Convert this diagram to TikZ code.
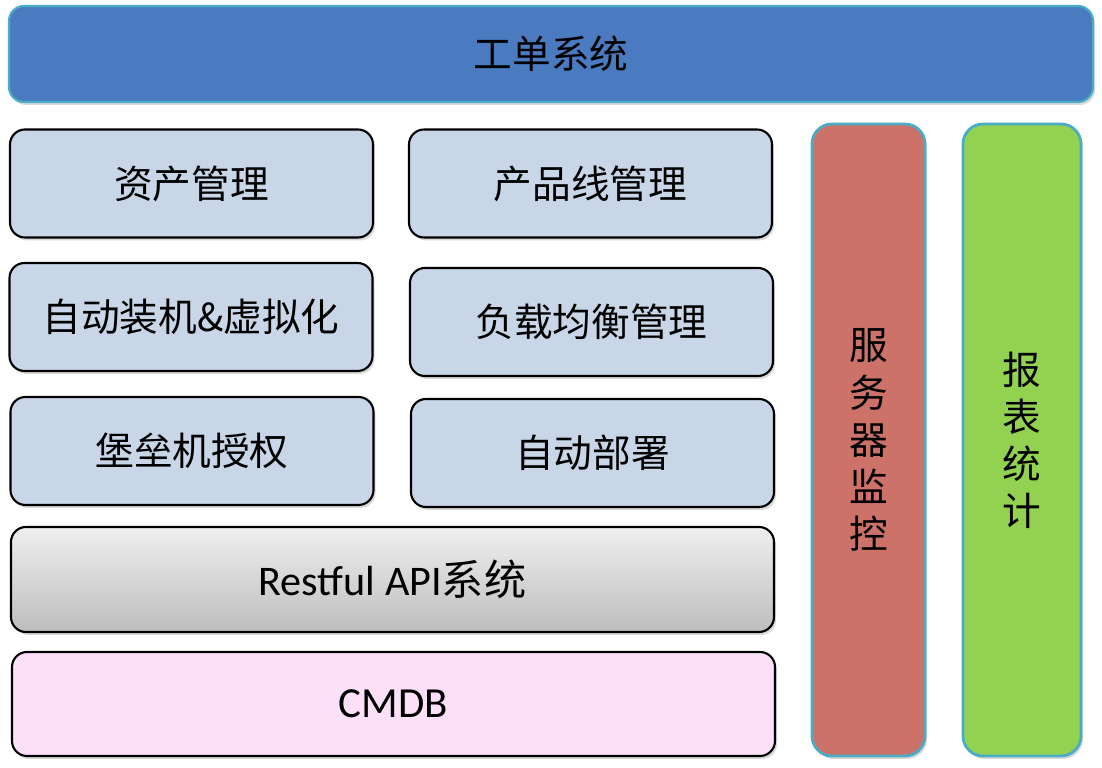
\documentclass[tikz,border=0pt]{standalone}
\usepackage{fontspec}
\setmainfont{Carlito}
\newfontfamily\cjk{Noto Sans CJK SC}
\usetikzlibrary{shadows}
\definecolor{topblue}{HTML}{4A7BC0}
\definecolor{tealline}{HTML}{4BACC6}
\definecolor{modfill}{HTML}{C9D6E7}
\definecolor{cmdbfill}{HTML}{FCE0F7}
\definecolor{monred}{HTML}{CC7269}
\definecolor{repgreen}{HTML}{93D151}
\definecolor{apitop}{HTML}{EFEFEF}
\definecolor{apibot}{HTML}{BDBDBD}
\tikzset{
  layer/.style={draw=black,line width=0.6pt,rounded corners=0.15cm,
    drop shadow={shadow xshift=0.02cm,shadow yshift=-0.03cm,opacity=0.3},
    font=\cjk\fontsize{11}{13}\selectfont},
  colbar/.style={layer,draw=tealline,line width=0.8pt,rounded corners=0.2cm,
    align=center,font=\cjk\fontsize{11}{13.4}\selectfont},
}
\begin{document}
\begin{tikzpicture}
  \useasboundingbox (0,0) rectangle (11.02,7.68);
  \node[layer,fill=topblue,draw=tealline,minimum width=10.84cm,minimum height=0.96cm] (order) at (5.51,7.14) {工单系统};
  % the six modules, two columns
  \foreach \name/\x/\y/\txt in {asset/1.915/5.845/资产管理, product/5.905/5.845/产品线管理,
      install/1.91/4.51/自动装机\&虚拟化, balance/5.915/4.46/负载均衡管理,
      bastion/1.92/3.17/堡垒机授权, deploy/5.925/3.15/自动部署} {
    \node[layer,fill=modfill,minimum width=3.63cm,minimum height=1.08cm] (\name) at (\x,\y) {\txt};
  }
  \node[layer,top color=apitop,bottom color=apibot,minimum width=7.63cm,minimum height=1.05cm] (api) at (3.925,1.885)
    {\fontsize{12}{14}\selectfont\rmfamily Restful API\cjk 系统};
  \node[layer,fill=cmdbfill,minimum width=7.63cm,minimum height=1.04cm] (cmdb) at (3.935,0.64)
    {\fontsize{12.2}{14}\selectfont\rmfamily CMDB};
  \node[colbar,fill=monred,minimum width=1.13cm,minimum height=6.32cm] (monitor) at (8.685,3.28) {服\\务\\器\\监\\控};
  \node[colbar,fill=repgreen,minimum width=1.18cm,minimum height=6.32cm] (report) at (10.22,3.28) {报\\表\\统\\计};
\end{tikzpicture}
\end{document}
